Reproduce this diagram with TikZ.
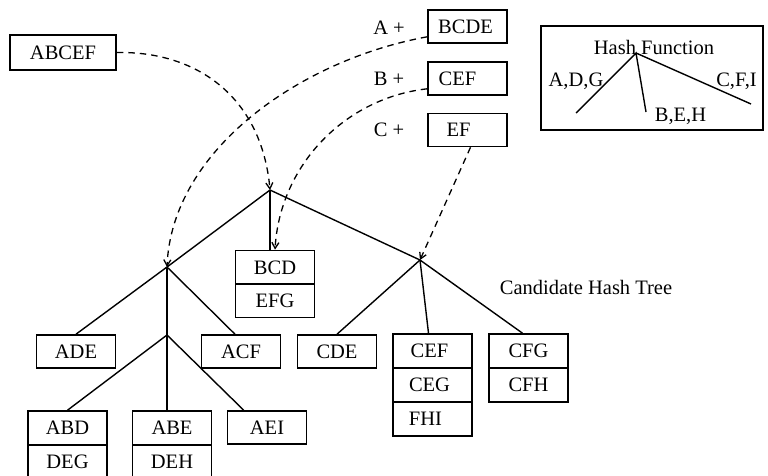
\documentclass[tikz,border=0pt]{standalone}
\usepackage{fontspec}
\setmainfont{Liberation Serif}
\usetikzlibrary{arrows.meta,calc}
\begin{document}
\begin{tikzpicture}[x=1pt,y=-1pt,
  every node/.style={font=\fontsize{20.5}{24}\selectfont, inner sep=0pt},
  cell/.style={draw, line width=1.6pt, minimum width=79pt, minimum height=34pt},
  edge/.style={line width=1.4pt},
  link/.style={line width=1.3pt, dash pattern=on 6.5pt off 5pt,
               -{Straight Barb[length=6pt,width=7pt]}},
]
\useasboundingbox (0,0) rectangle (768,475);
\clip (0,0) rectangle (768,475);

% input transaction and its prefixes
\node[cell, minimum width=106pt, minimum height=35pt] (abcef) at (63,52.5) {ABCEF};
\node[cell, minimum height=33pt] (bcde) at (467.5,26.5) {BCDE\kern4pt};
\node[cell, minimum height=33pt] (cefin) at (467.5,78.5) {CEF\kern20pt};
\node[cell, minimum height=33pt] (efin) at (467.5,130) {EF\kern18pt};
\node (pa) at (389,28) {A +};
\node (pb) at (389,79) {B +};
\node (pc) at (389,130) {C +};

% hash function legend
\node[draw, line width=1.6pt, minimum width=222pt, minimum height=104pt] (hbox) at (652,78) {};
\node (hf) at (654,47) {Hash Function};
\coordinate (hapex) at (636,53);
\coordinate (hl) at (576,113);
\coordinate (hm) at (646,112);
\coordinate (hr) at (751,104);
\draw[edge] (hl) -- (hapex) -- (hm);
\draw[edge] (hapex) -- (hr);
\node (adg) at (576,81) {A,D,G};
\node (beh) at (680.5,116) {B,E,H};
\node (cfi) at (736.5,81) {C,F,I};

% interior nodes of the hash tree
\coordinate (root) at (270,190);
\coordinate (lc) at (167,267);
\coordinate (sub) at (167,335);
\coordinate (rc) at (420,260);

% leaves
\node[cell] (bcd1) at (275,267.5) {BCD};
\node[cell] (bcd2) at (275,300.5) {EFG};
\node[cell, minimum height=33pt] (ade) at (76,351.5) {ADE};
\node[cell, minimum height=33pt] (acf) at (241,351.5) {ACF};
\node[cell, minimum height=33pt] (cde) at (337,351.5) {CDE};
\node[cell] (abd1) at (67.5,428) {ABD};
\node[cell] (abd2) at (67.5,462) {DEG};
\node[cell] (abe1) at (172,428) {ABE};
\node[cell] (abe2) at (172,462) {DEH};
\node[cell, minimum height=33pt] (aei) at (267,427.5) {AEI};
\node[cell] (cef1) at (432.5,351) {CEF\kern6pt};
\node[cell] (cef2) at (432.5,385) {CEG\kern6pt};
\node[cell] (cef3) at (432.5,419) {FHI\kern14pt};
\node[cell] (cfg1) at (528.5,351) {CFG};
\node[cell] (cfg2) at (528.5,385) {CFH};
\node (cht) at (586,287) {Candidate Hash Tree};

% tree edges
\draw[edge] (root) -- (lc);
\draw[edge] (root) -- (rc);
\draw[edge] (root) -- (bcd1.north -| root);
\draw[edge] (lc) -- (ade.north);
\draw[edge] (lc) -- ($(acf.north)+(-6,0)$);
\draw[edge] (lc) -- (sub);
\draw[edge] (sub) -- (abd1.north);
\draw[edge] (sub) -- (abe1.north -| sub);
\draw[edge] (sub) -- ($(aei.north west)+(17,0)$);
\draw[edge] (rc) -- (cde.north);
\draw[edge] (rc) -- ($(cef1.north)+(-4,0)$);
\draw[edge] (rc) -- ($(cfg1.north)+(-6,0)$);

% hashing of the transaction
\draw[link] (abcef.east) .. controls (200,51) and (262,100) .. (root);
\draw[link] ($(bcde.south west)+(0,-7)$) .. controls (300,60) and (172,150) .. (lc);
\draw[link] ($(cefin.south west)+(0,-7)$) .. controls (345,98) and (280,165) .. (bcd1.north);
\draw[link] ($(efin.south)+(3,0)$) -- (rc);
\end{tikzpicture}
\end{document}
